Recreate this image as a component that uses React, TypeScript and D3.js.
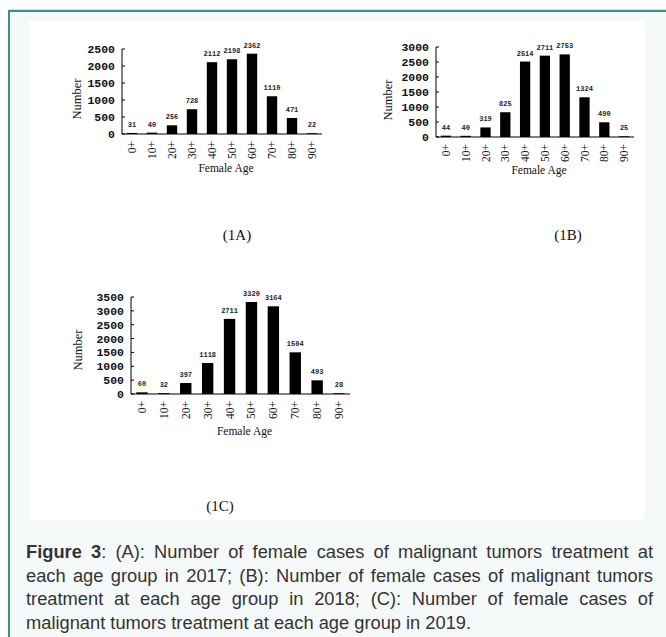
import React, { useEffect, useRef } from "react";
import * as d3 from "d3";

const ageGroups = ["0+", "10+", "20+", "30+", "40+", "50+", "60+", "70+", "80+", "90+"];
const values2017 = [31, 40, 256, 728, 2112, 2198, 2362, 1110, 471, 22];
const values2018 = [44, 40, 319, 825, 2514, 2711, 2753, 1324, 490, 25];
const values2019 = [60, 32, 397, 1118, 2711, 3320, 3164, 1504, 493, 28];
const ticks2017 = [0, 500, 1000, 1500, 2000, 2500];
const ticks2018 = [0, 500, 1000, 1500, 2000, 2500, 3000];
const ticks2019 = [0, 500, 1000, 1500, 2000, 2500, 3000, 3500];
const panelLabels = ["(1A)", "(1B)", "(1C)"];
const captionLines = [
  "Number of female cases of malignant tumors treatment at",
  "each age group in 2017; (B): Number of female cases of malignant tumors",
  "treatment at each age group in 2018; (C): Number of female cases of",
  "malignant tumors treatment at each age group in 2019.",
];

const TICK_FONT = "'Liberation Mono', 'DejaVu Sans Mono', monospace";
const SERIF = "'Liberation Serif', 'Times New Roman', serif";

type ChartProps = {
  values: number[];
  ticks: number[];
  x0: number;
  x1: number;
  y0: number;
  y1: number;
  labelX: number;
  labelY: number;
  titleY: number;
};

function BarChart({ values, ticks, x0, x1, y0, y1, labelX, labelY, titleY }: ChartProps) {
  const x = d3.scaleBand<string>().domain(ageGroups).range([x0, x1]).paddingInner(0.48).paddingOuter(0.24);
  const y = d3.scaleLinear().domain([0, ticks[ticks.length - 1]]).range([y0, y1]);
  return (
    <g>
      {values.map((v, i) => (
        <rect key={i} x={x(ageGroups[i])} y={y(v)} width={x.bandwidth()} height={y0 - y(v)} fill="#000" />
      ))}
      {values.map((v, i) => (
        <text
          key={"v" + i}
          x={(x(ageGroups[i]) as number) + x.bandwidth() / 2}
          y={y(v) - 6}
          textAnchor="middle"
          fontFamily={TICK_FONT}
          fontWeight="bold"
          fontSize={7}
          fill="#222"
        >
          {v}
        </text>
      ))}
      <line x1={x0} x2={x0} y1={y1} y2={y0} stroke="#000" strokeWidth={1} />
      <line x1={x0} x2={x1} y1={y0} y2={y0} stroke="#000" strokeWidth={1} />
      {ticks.map((t) => (
        <g key={t}>
          <line x1={x0} x2={x0 + 3} y1={y(t)} y2={y(t)} stroke="#000" />
          <text
            x={x0 - 7}
            y={y(t)}
            dy="0.35em"
            textAnchor="end"
            fontFamily={TICK_FONT}
            fontWeight="bold"
            fontSize={11.5}
            fill="#111"
          >
            {t}
          </text>
        </g>
      ))}
      {ageGroups.map((g) => (
        <text
          key={g}
          transform={`translate(${(x(g) as number) + x.bandwidth() / 2},${y0 + 7}) rotate(-90)`}
          textAnchor="end"
          dy="0.35em"
          fontFamily={SERIF}
          fontSize={11.5}
          fill="#111"
        >
          {g}
        </text>
      ))}
      <text
        transform={`translate(${labelX},${labelY}) rotate(-90)`}
        textAnchor="middle"
        dy="0.35em"
        fontFamily={SERIF}
        fontSize={12.5}
        fill="#111"
      >
        Number
      </text>
      <text x={(x0 + x1) / 2 + 4} y={titleY} textAnchor="middle" fontFamily={SERIF} fontSize={11.5} fill="#111">
        Female Age
      </text>
    </g>
  );
}

export default function App() {
  const capRef = useRef<SVGGElement>(null);
  useEffect(() => {
    if (!capRef.current) return;
    const target = 653 - 26;
    d3.select(capRef.current)
      .selectAll<SVGTextElement, unknown>("text.just")
      .each(function () {
        const el = this;
        el.setAttribute("word-spacing", "0");
        const w = el.getComputedTextLength();
        const spaces = (el.textContent || "").split(" ").length - 1;
        if (spaces > 0) el.setAttribute("word-spacing", String((target - w) / spaces));
      });
  }, []);

  return (
    <div style={{ position: "absolute", left: 0, top: 0 }}>
      <svg width={666} height={637} style={{ display: "block" }}>
        <rect x={0} y={0} width={666} height={637} fill="#fff" />
        <rect x={9} y={11} width={700} height={700} fill="#f6f9f9" stroke="#3f8f89" strokeWidth={2} />
        <line x1={9} x2={666} y1={9.5} y2={9.5} stroke="#cfe3e1" strokeWidth={1} />
        <rect x={29} y={21} width={616} height={499} fill="#fff" />

        <BarChart values={values2017} ticks={ticks2017} x0={122} x1={322} y0={134} y1={49} labelX={77} labelY={99} titleY={172} />
        <BarChart values={values2018} ticks={ticks2018} x0={436} x1={634} y0={137} y1={47} labelX={388} labelY={100} titleY={174} />
        <BarChart values={values2019} ticks={ticks2019} x0={131} x1={350} y0={394} y1={297} labelX={78} labelY={350} titleY={435} />

        <text x={237} y={240} textAnchor="middle" fontFamily={SERIF} fontSize={15} fill="#111">{panelLabels[0]}</text>
        <text x={568} y={240} textAnchor="middle" fontFamily={SERIF} fontSize={15} fill="#111">{panelLabels[1]}</text>
        <text x={220} y={511} textAnchor="middle" fontFamily={SERIF} fontSize={15} fill="#111">{panelLabels[2]}</text>

        <g ref={capRef} fontFamily="'Liberation Sans', Arial, sans-serif" fontSize={18.3} fill="#333">
          <text className="just" x={26} y={558}>
            <tspan fontWeight="bold">Figure 3</tspan>: (A): {captionLines[0]}
          </text>
          <text className="just" x={26} y={581.5}>{captionLines[1]}</text>
          <text className="just" x={26} y={605}>{captionLines[2]}</text>
          <text x={26} y={628.5}>{captionLines[3]}</text>
        </g>
      </svg>
    </div>
  );
}
